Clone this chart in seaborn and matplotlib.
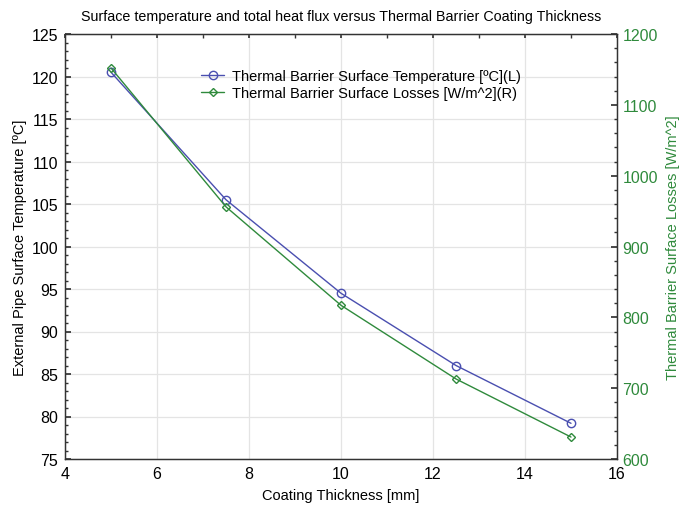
import matplotlib
matplotlib.use("Agg")
import matplotlib.pyplot as plt
import seaborn as sns
import pandas as pd
from matplotlib.ticker import MultipleLocator

thickness = [5, 7.5, 10, 12.5, 15]
temperature = [120.5, 105.5, 94.5, 86.0, 79.2]
losses = [1152, 956, 817, 713, 631]

sns.set_theme(style="white")
plt.rcParams['font.family'] = ['Liberation Sans', 'DejaVu Sans']
plt.rcParams['text.color'] = 'black'
plt.rcParams['axes.labelcolor'] = 'black'

df = pd.DataFrame({"t": thickness, "temp": temperature, "loss": losses})
blue = "#4a4fb0"
green = "#2f8a3c"
FS = 10.5
TS = 11.5

fig = plt.figure(figsize=(6.79, 5.10), dpi=100)
ax = fig.add_axes([65/679, 50/510, (617-65)/679, (460-35)/510])
ax2 = ax.twinx()

sns.lineplot(data=df, x="t", y="temp", ax=ax, color=blue, marker="o",
             markersize=6, markerfacecolor="none", markeredgecolor=blue,
             markeredgewidth=1.0, linewidth=1.0,
             label="Thermal Barrier Surface Temperature [ºC](L)", legend=False)
sns.lineplot(data=df, x="t", y="loss", ax=ax2, color=green, marker="D",
             markersize=4, markerfacecolor="none", markeredgecolor=green,
             markeredgewidth=1.0, linewidth=1.0,
             label="Thermal Barrier Surface Losses [W/m^2](R)", legend=False)

ax.set_xlim(4, 16)
ax.set_ylim(75, 125)
ax2.set_ylim(600, 1200)
ax.xaxis.set_major_locator(MultipleLocator(2))
ax.xaxis.set_minor_locator(MultipleLocator(1))
ax.yaxis.set_major_locator(MultipleLocator(5))
ax.yaxis.set_minor_locator(MultipleLocator(1))
ax2.yaxis.set_major_locator(MultipleLocator(100))
ax2.yaxis.set_minor_locator(MultipleLocator(20))

ax.grid(True, which="major", color="#e4e4e4", linewidth=0.9)
ax.set_axisbelow(True)
for a in (ax, ax2):
    for s in a.spines.values():
        s.set_color("#333333")
        s.set_linewidth(0.9)
ax.tick_params(axis="both", which="both", direction="in", colors="#333333",
               labelcolor="black", labelsize=TS, top=True)
ax.tick_params(axis="y", which="major", length=4, pad=5)
ax.tick_params(axis="y", which="minor", length=2)
ax.tick_params(axis="x", which="both", length=3, pad=5)
ax2.tick_params(axis="y", which="both", direction="in", colors="#333333",
                labelcolor=green, labelsize=TS)
ax2.tick_params(which="major", length=4, pad=4)
ax2.tick_params(which="minor", length=2)

ax.set_xlabel("Coating Thickness [mm]", fontsize=FS, labelpad=5, color="black")
ax.set_ylabel("External Pipe Surface Temperature [ºC]", fontsize=FS, labelpad=3,
              color="black")
ax2.set_ylabel("Thermal Barrier Surface Losses [W/m^2]", fontsize=FS, color=green,
               labelpad=6)
fig.suptitle("Surface temperature and total heat flux versus Thermal Barrier Coating Thickness",
             fontsize=10.3, x=341/679, y=1 - 10/510, va="top", color="black")

h1, l1 = ax.get_legend_handles_labels()
h2, l2 = ax2.get_legend_handles_labels()
leg = ax.legend(h1 + h2, l1 + l2, loc="upper left", bbox_to_anchor=(0.236, 0.932),
                frameon=False, fontsize=FS, handlelength=1.6, handletextpad=0.5,
                labelspacing=0.25, borderaxespad=0)
for t in leg.get_texts():
    t.set_color("black")

fig.savefig("out.png", dpi=100)
